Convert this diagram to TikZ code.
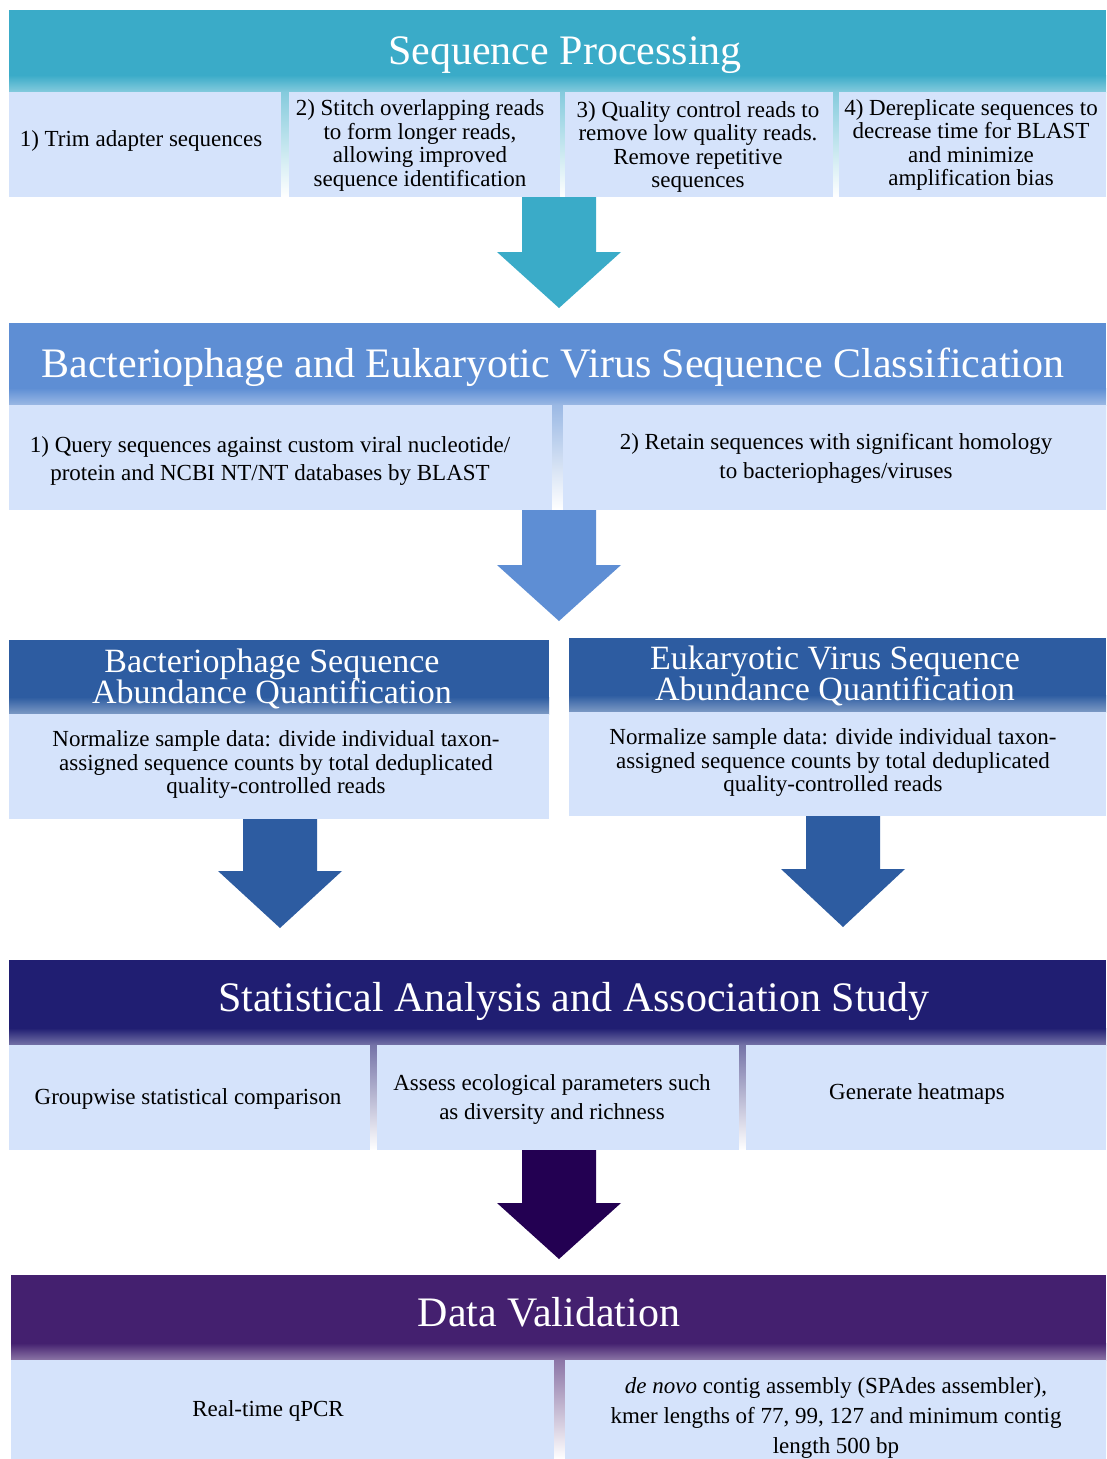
\documentclass[tikz,border=0pt]{standalone}
\usepackage{fontspec}
\setmainfont{Liberation Serif}
\usetikzlibrary{fit}
\definecolor{boxc}{HTML}{D5E3FB}
\definecolor{hA}{HTML}{3AABC8}
\definecolor{hB}{HTML}{5E8ED4}
\definecolor{hC}{HTML}{2D5CA1}
\definecolor{hD}{HTML}{201E72}
\definecolor{aD}{HTML}{230052}
\definecolor{hE}{HTML}{44206F}
\tikzset{
 panel/.style={inner sep=0pt, outer sep=0pt, draw=none},
 subbox/.style={panel, fill=boxc},
 body/.style={font=\fontsize{23}{23.5}\selectfont, align=center, inner sep=0pt, text=black},
 bodyls/.style={body, font=\fontsize{23}{#1}\selectfont},
 title/.style={font=\fontsize{42}{44}\selectfont, text=white, inner sep=0pt},
 subtitle/.style={font=\fontsize{34}{31}\selectfont, align=center, text=white, inner sep=0pt},
}
\newcommand\blockarrow[7]{%
 \fill[#1] (#2-#6,#3) -- (#2-#6,#4) -- (#2-#7,#4) -- (#2,#5) -- (#2+#7,#4) -- (#2+#6,#4) -- (#2+#6,#3) -- cycle;}
\newcommand\hdrfade[2]{%
 \shade[top color=#2, bottom color=#2!62!white] ([yshift=17pt]#1.south west) rectangle (#1.south east);}
\begin{document}
\lineskiplimit=-30pt
\begin{tikzpicture}[x=1pt, y=-1pt]
\useasboundingbox (0,0) rectangle (1106,1459);
\fill[white] (0,0) rectangle (1106,1459);

% ---------- Section 1
\node[panel, fill=hA, fit={(9,10) (1106,92)}] (h1) {};
\hdrfade{h1}{hA}
\shade[top color=hA!62!white, bottom color=white] (9,92) rectangle (1106,197);
\node[subbox, fit={(9,92) (281,197)}] (s1a) {};
\node[subbox, fit={(289,92) (560,197)}] (s1b) {};
\node[subbox, fit={(565,92) (833,197)}] (s1c) {};
\node[subbox, fit={(839,92) (1106,197)}] (s1d) {};
\node[title] (t1) at (565,55) {Sequence Processing};
\node[body] (x1a) at (141,141) {1) Trim adapter sequences};
\node[body] (x1b) at (420,145.5) {2) Stitch overlapping reads\\to form longer reads,\\allowing improved\\sequence identification};
\node[body] (x1c) at (698,147) {3) Quality control reads to\\remove low quality reads.\\Remove repetitive\\sequences};
\node[body] (x1d) at (971,145) {4) Dereplicate sequences to\\decrease time for BLAST\\and minimize\\amplification bias};
\blockarrow{hA}{559}{197}{252}{308}{37}{62}

% ---------- Section 2
\node[panel, fill=hB, fit={(9,323) (1106,405)}] (h2) {};
\hdrfade{h2}{hB}
\shade[top color=hB!62!white, bottom color=white] (9,405) rectangle (1106,510);
\node[subbox, fit={(9,405) (552,510)}] (s2a) {};
\node[subbox, fit={(563,405) (1106,510)}] (s2b) {};
\node[title] (t2) at (553,367) {Bacteriophage and Eukaryotic Virus Sequence Classification};
\node[bodyls=28] (x2a) at (270,461) {1) Query sequences against custom viral nucleotide/\\protein and NCBI NT/NT databases by BLAST};
\node[bodyls=29] (x2b) at (836,458.5) {2) Retain sequences with significant homology\\to bacteriophages/viruses};
\blockarrow{hB}{559}{510}{565}{621}{37}{62}

% ---------- Section 3
\node[panel, fill=hC, fit={(9,640) (549,714)}] (h3a) {};
\hdrfade{h3a}{hC}
\node[subbox, fit={(9,714) (549,819)}] (s3a) {};
\node[panel, fill=hC, fit={(569,638) (1106,712)}] (h3b) {};
\hdrfade{h3b}{hC}
\node[subbox, fit={(569,712) (1106,816)}] (s3b) {};
\node[subtitle] (t3a) at (272,678.5) {Bacteriophage Sequence\\Abundance Quantification};
\node[subtitle] (t3b) at (835,675.5) {Eukaryotic Virus Sequence\\Abundance Quantification};
\node[body] (x3a) at (276,764.5) {Normalize sample data: divide individual taxon-\\assigned sequence counts by total deduplicated\\quality-controlled reads};
\node[body] (x3b) at (833,762.5) {Normalize sample data: divide individual taxon-\\assigned sequence counts by total deduplicated\\quality-controlled reads};
\blockarrow{hC}{280}{819}{871}{928}{37}{62}
\blockarrow{hC}{843}{816}{869}{927}{37}{62}

% ---------- Section 4
\node[panel, fill=hD, fit={(9,960) (1106,1045)}] (h4) {};
\hdrfade{h4}{hD}
\shade[top color=hD!62!white, bottom color=white] (9,1045) rectangle (1106,1150);
\node[subbox, fit={(9,1045) (370,1150)}] (s4a) {};
\node[subbox, fit={(377,1045) (739,1150)}] (s4b) {};
\node[subbox, fit={(746,1045) (1106,1150)}] (s4c) {};
\node[title] (t4) at (574,1001) {Statistical Analysis and Association Study};
\node[body] (x4a) at (188,1099) {Groupwise statistical comparison};
\node[bodyls=29] (x4b) at (552,1099.5) {Assess ecological parameters such\\as diversity and richness};
\node[body] (x4c) at (917,1094) {Generate heatmaps};
\blockarrow{aD}{559}{1150}{1203}{1259}{37}{62}

% ---------- Section 5
\node[panel, fill=hE, fit={(11,1275) (1106,1360)}] (h5) {};
\hdrfade{h5}{hE}
\shade[top color=hE!62!white, bottom color=white] (11,1360) rectangle (1106,1459);
\node[subbox, fit={(11,1360) (554,1459)}] (s5a) {};
\node[subbox, fit={(565,1360) (1106,1459)}] (s5b) {};
\node[title] (t5) at (549,1312) {Data Validation};
\node[body] (x5a) at (268,1411) {Real-time qPCR};
\node[bodyls=30] (x5b) at (836,1418) {\textit{de novo} contig assembly (SPAdes assembler),\\kmer lengths of 77, 99, 127 and minimum contig\\length 500 bp};
\end{tikzpicture}
\end{document}
